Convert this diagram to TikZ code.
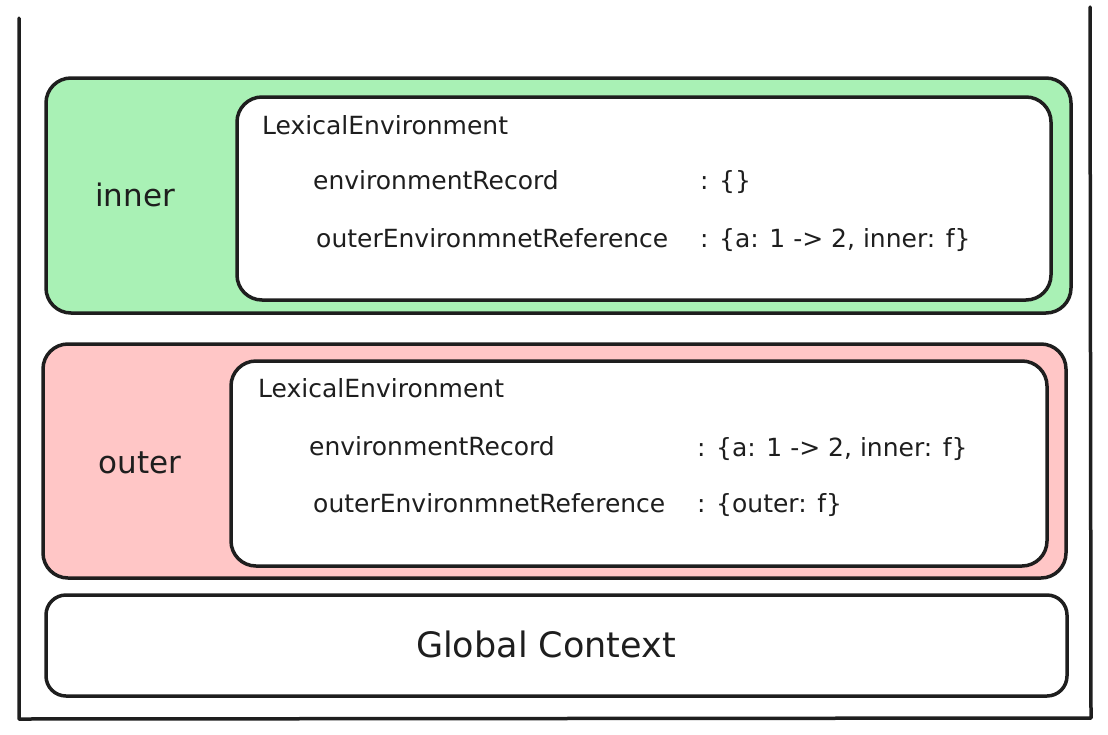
\documentclass[tikz,border=0pt]{standalone}
\usepackage{fontspec}
\setmainfont{DejaVu Sans}
\usepackage{xcolor}
\usepackage{tikz}
\definecolor{strokegray}{HTML}{1E1E1E}
\definecolor{innergreen}{HTML}{A9F1B5}
\definecolor{outerpink}{HTML}{FFC6C6}

\begin{document}
\begin{tikzpicture}[x=1pt,y=-1pt]

\tikzset{ctx/.style = {shape=rectangle,draw=strokegray,line width=3.5pt,rounded corners=25pt,inner sep=0pt,outer sep=0pt}}
\tikzset{lexenv/.style = {ctx,fill=white}}
\tikzset{entry/.style = {anchor=base west,inner sep=0pt,text=strokegray,font=\fontsize{25}{30}\selectfont}}
\tikzset{ctxname/.style = {anchor=base,inner sep=0pt,text=strokegray,font=\fontsize{31}{36}\selectfont}}

\useasboundingbox (0,0) rectangle (1108,734);

% frame
\coordinate (ftl) at (19,18);
\coordinate (fbl) at (19,719);
\coordinate (fbr) at (1091,718);
\coordinate (ftr) at (1090,7);
\draw[strokegray,line width=3.5pt,line cap=round,line join=round] (ftl) -- (fbl) -- (fbr) -- (ftr);

% contexts
\node[ctx,fill=innergreen,minimum width=1025pt,minimum height=235pt] (innerctx) at (558.5,195.5) {};
\node[lexenv,minimum width=814pt,minimum height=203pt] (innerle) at (644,198.5) {};
\node[ctx,fill=outerpink,minimum width=1023pt,minimum height=234pt] (outerctx) at (554.5,461) {};
\node[lexenv,minimum width=816pt,minimum height=205pt] (outerle) at (639,463.5) {};
\node[ctx,fill=white,rounded corners=20pt,minimum width=1021pt,minimum height=101pt] (global) at (556.5,645.5) {};

% names
\node[ctxname] (innername) at (135,206) {inner};
\node[ctxname] (outername) at (140,473) {outer};
\node[ctxname,font=\fontsize{35}{40}\selectfont] (globalname) at (546,657) {Global Context};

% inner entries
\node[entry] (innerlex) at (262,134) {LexicalEnvironment};
\node[entry] (innerrec) at (313,189) {environmentRecord};
\node[entry] (innerref) at (316,247) {outerEnvironmnetReference};
\node[entry] (innerrecval) at (700,189) {: \{\}};
\node[entry] (innerrefval) at (700,247) {: \{a: 1 -> 2, inner: f\}};

% outer entries
\node[entry] (outerlex) at (258,397) {LexicalEnvironment};
\node[entry] (outerrec) at (309,455) {environmentRecord};
\node[entry] (outerref) at (313,512) {outerEnvironmnetReference};
\node[entry] (outerrecval) at (697,456) {: \{a: 1 -> 2, inner: f\}};
\node[entry] (outerrefval) at (697,512) {: \{outer: f\}};
\end{tikzpicture}
\end{document}
